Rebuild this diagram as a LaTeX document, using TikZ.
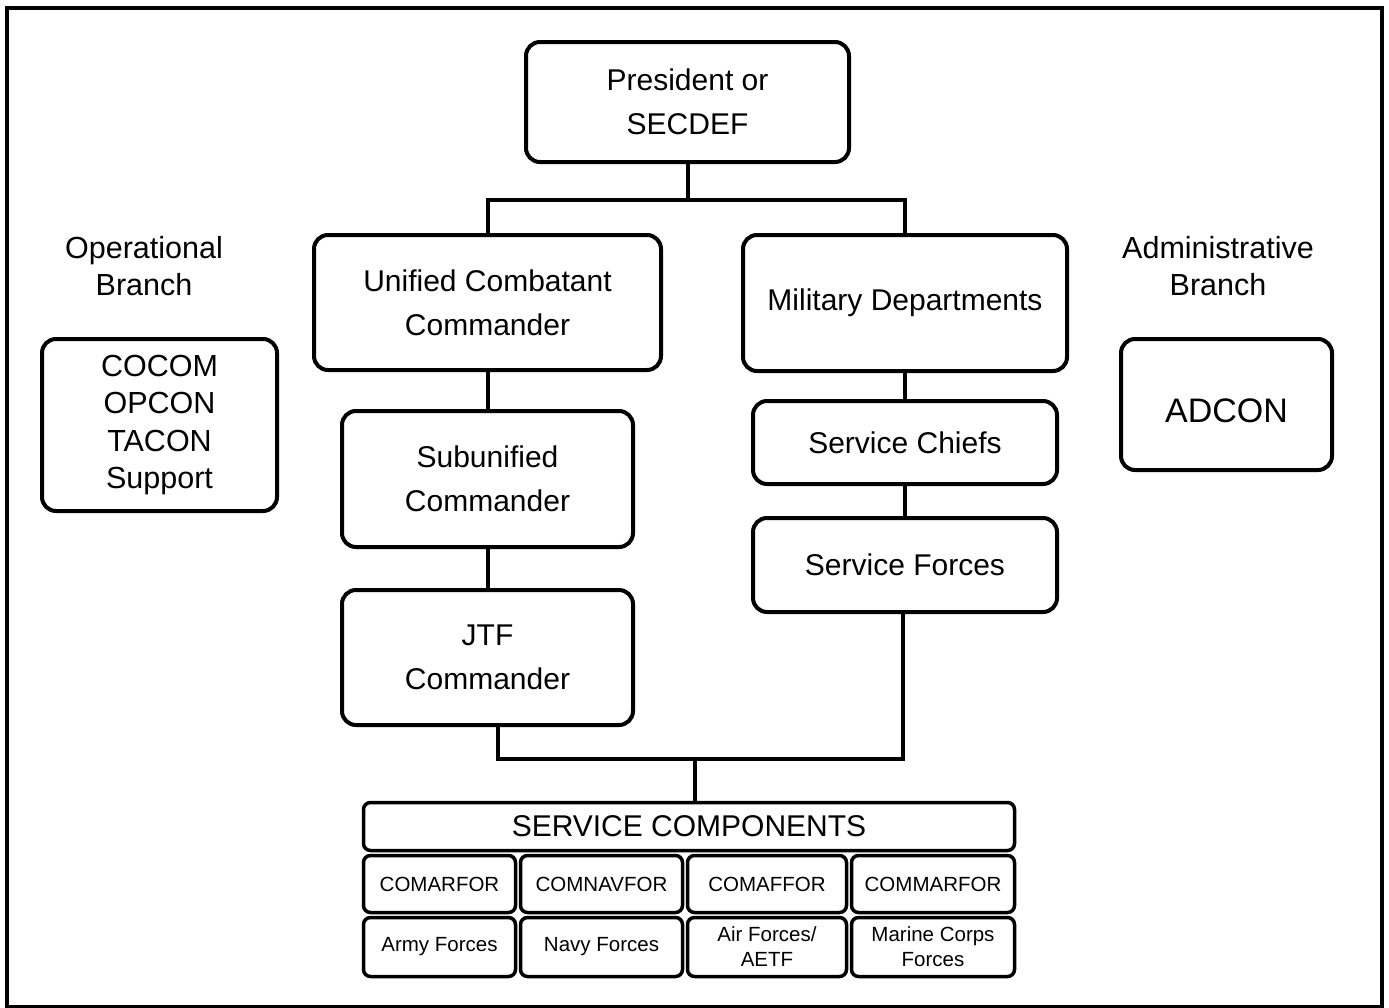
\documentclass[tikz,border=0pt]{standalone}
\usepackage{fontspec}
\setmainfont{Liberation Sans}
\usepackage{tikz}

\newcommand{\bigtext}{\fontsize{30}{44}\selectfont}
\newcommand{\branchtext}{\fontsize{30.5}{37.5}\selectfont}
\newcommand{\celltext}{\fontsize{20.5}{25}\selectfont}

\tikzset{
  box/.style={draw, line width=4pt, rounded corners=14pt, align=center,
    inner sep=0pt, font=\bigtext},
  cell/.style={draw, line width=3.5pt, rounded corners=7pt, align=center,
    inner sep=0pt, font=\celltext},
  link/.style={line width=4pt}
}

\begin{document}
\begin{tikzpicture}[x=1pt, y=-1pt]
    \useasboundingbox (0,0) rectangle (1389,1007);
    \draw[line width=4.5pt] (7,8) rectangle (1382,1007);
    % Command chain
    \node[box, minimum width=323, minimum height=120] (pres) at (687.5,102) {President or\\SECDEF};
    \node[box, minimum width=347, minimum height=135] (ucc) at (487.5,302.5) {Unified Combatant\\Commander};
    \node[box, minimum width=324, minimum height=136] (mildep) at (905,303) {Military Departments};
    \node[box, minimum width=291, minimum height=136] (subuni) at (487.5,479) {Subunified\\Commander};
    \node[box, minimum width=291, minimum height=135] (jtf) at (487.5,657.5) {JTF\\Commander};
    \node[box, minimum width=304, minimum height=83] (chiefs) at (905,442.5) {Service Chiefs};
    \node[box, minimum width=304, minimum height=94] (forces) at (905,565) {Service Forces};
    % Branch side boxes
    \path (144,266) node[align=center, font=\branchtext] (opname) {Operational\\Branch};
    \path (1218,266) node[align=center, font=\branchtext] (adname) {Administrative\\Branch};
    \node[box, font=\branchtext, minimum width=235, minimum height=172] (opbox) at (159.5,425) {COCOM\\OPCON\\TACON\\Support};
    \node[box, font=\fontsize{34}{40}\selectfont, text height=37pt, minimum width=211, minimum height=131] (adbox) at (1226.5,404.5) {ADCON};
    % Service components table
    \node[cell, font=\bigtext, minimum width=651, minimum height=48] (comp) at (689,826.5) {SERVICE COMPONENTS};
    \node[cell, minimum width=152, minimum height=57] (comarfor) at (439.5,884) {COMARFOR};
    \node[cell, minimum width=162, minimum height=57] (comnavfor) at (601.5,884) {COMNAVFOR};
    \node[cell, minimum width=159, minimum height=57] (comaffor) at (767,884) {COMAFFOR};
    \node[cell, minimum width=163, minimum height=57] (commarfor) at (933,884) {COMMARFOR};
    \node[cell, minimum width=152, minimum height=59] (army) at (439.5,947) {Army Forces};
    \node[cell, minimum width=162, minimum height=59] (navy) at (601.5,947) {Navy Forces};
    \node[cell, minimum width=159, minimum height=59] (air) at (767,947) {Air Forces/\\AETF};
    \node[cell, minimum width=163, minimum height=59] (marine) at (933,947) {Marine Corps\\Forces};
    % Connectors
    \coordinate (topbus) at (687.5,200);
    \coordinate (lowbus) at (695,759);
    \draw[link] (pres) -- (topbus);
    \draw[link] (ucc.north) |- (topbus) -| (mildep.north);
    \draw[link] (ucc) -- (subuni);
    \draw[link] (subuni) -- (jtf);
    \draw[link] (mildep) -- (chiefs);
    \draw[link] (chiefs) -- (forces);
    \draw[link] ([xshift=10pt]jtf.south) |- (lowbus) -| ([xshift=-2pt]forces.south);
    \draw[link] (lowbus) -- (lowbus |- comp.north);
\end{tikzpicture}
\end{document}
